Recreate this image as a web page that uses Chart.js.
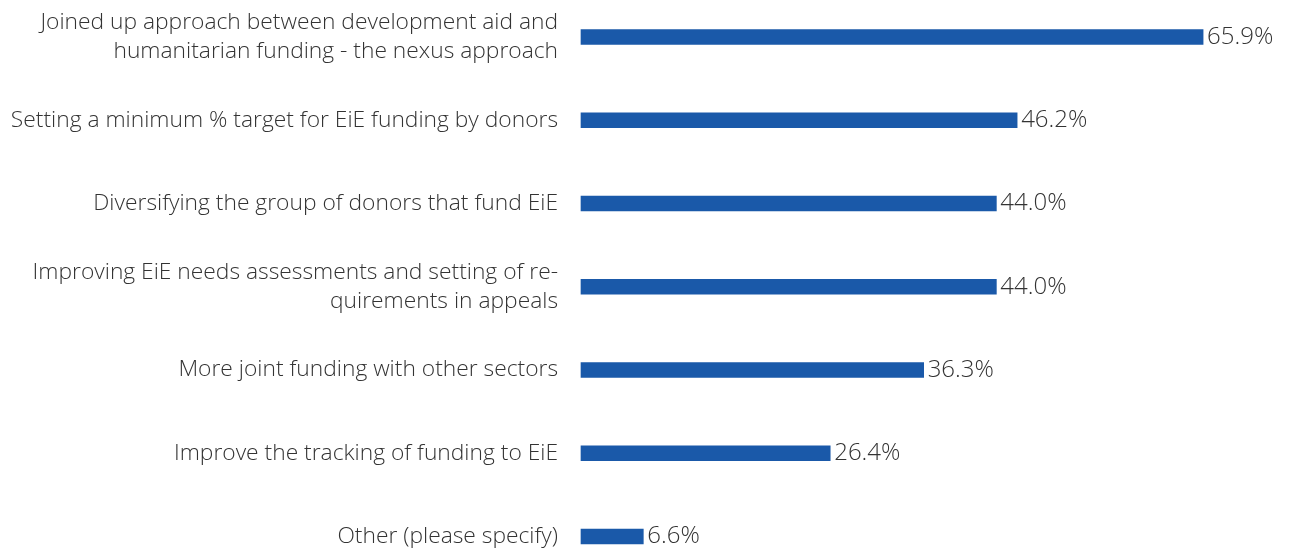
<!DOCTYPE html>
<html>
<head>
<meta charset="utf-8">
<script src="https://cdn.jsdelivr.net/npm/chart.js@4"></script>
<style>
html,body{margin:0;padding:0;background:#fff;}
#wrap{width:1289px;height:551px;position:relative;}
</style>
</head>
<body>
<div id="wrap"><canvas id="c" width="1289" height="551"></canvas></div>
<script>
const categories = [
  ["Joined up approach between development aid and", "humanitarian funding - the nexus approach"],
  "Setting a minimum % target for EiE funding by donors",
  "Diversifying the group of donors that fund EiE",
  ["Improving EiE needs assessments and setting of re-", "quirements in appeals"],
  "More joint funding with other sectors",
  "Improve the tracking of funding to EiE",
  "Other (please specify)"
];
const values = [65.9, 46.2, 44.0, 44.0, 36.3, 26.4, 6.6];
const valueLabels = ["65.9%", "46.2%", "44.0%", "44.0%", "36.3%", "26.4%", "6.6%"];

const FONT = "'Open Sans', 'Liberation Sans', sans-serif";
const TXT = "#333333";
const BAR = "#1a59a9";

const valuePlugin = {
  id: 'valuePlugin',
  afterDatasetsDraw(chart) {
    const ctx = chart.ctx;
    const meta = chart.getDatasetMeta(0);
    ctx.save();
    ctx.font = "300 24px " + FONT;
    ctx.fillStyle = TXT;
    ctx.textAlign = 'left';
    ctx.textBaseline = 'middle';
    meta.data.forEach((bar, i) => {
      ctx.fillText(valueLabels[i], bar.x + 4, bar.y);
    });
    ctx.restore();
  }
};

new Chart(document.getElementById('c'), {
  type: 'bar',
  data: {
    labels: categories,
    datasets: [{
      data: values,
      backgroundColor: BAR,
      barThickness: 15,
      borderWidth: 0,
      clip: false
    }]
  },
  options: {
    indexAxis: 'y',
    responsive: false,
    animation: false,
    layout: { padding: { top: 37, bottom: 14.5, left: 0, right: 0 } },
    plugins: { legend: { display: false }, tooltip: { enabled: false } },
    scales: {
      x: {
        display: false,
        min: 0,
        max: 75
      },
      y: {
        offset: false,
        grid: { display: false, drawTicks: false },
        border: { display: false },
        afterFit(scale) {
          scale.width = 581;
          scale.paddingTop = 0;
          scale.paddingBottom = 0;
        },
        ticks: {
          padding: 23,
          color: TXT,
          font: { family: FONT, size: 22.8, weight: 300, lineHeight: 1.27 }
        }
      }
    }
  },
  plugins: [valuePlugin]
});
</script>
</body>
</html>
